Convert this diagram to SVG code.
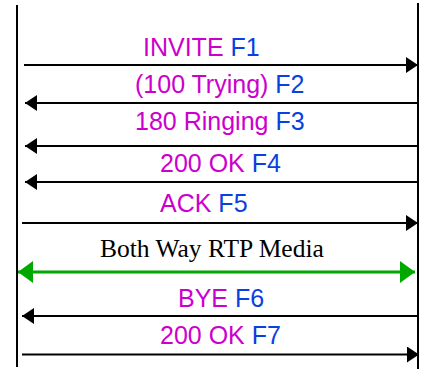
<svg xmlns="http://www.w3.org/2000/svg" width="438" height="383" viewBox="0 0 438 383">
<style>
.life{stroke:#000;stroke-width:2;fill:none}
.msg{stroke:#000;stroke-width:2;fill:none;marker-end:url(#ah)}
.media{stroke:#00A800;stroke-width:3;fill:none;marker-start:url(#gh);marker-end:url(#gh)}
.lbl{font-family:"Liberation Sans",Arial,sans-serif;font-size:25px}
.m{fill:#CC00CC}
.b{fill:#0A3FE0}
.ser{font-family:"Liberation Serif","Times New Roman",serif;font-size:25.5px;fill:#000}
</style>
<defs>
<marker id="ah" markerUnits="userSpaceOnUse" markerWidth="12" markerHeight="16" viewBox="0 0 12 16" refX="12" refY="8" orient="auto">
<path d="M0,0 L12,8 L0,16 z" fill="#000"/>
</marker>
<marker id="gh" markerUnits="userSpaceOnUse" markerWidth="15" markerHeight="22" viewBox="0 0 15 22" refX="15" refY="11" orient="auto-start-reverse">
<path d="M0,0 L15,11 L0,22 z" fill="#00A800"/>
</marker>
</defs>
<rect width="438" height="383" fill="#fff"/>
<g id="caller"><line class="life" x1="17" y1="5" x2="17" y2="367"/></g>
<g id="callee"><line class="life" x1="418" y1="3" x2="418" y2="369"/></g>
<g id="connectors">
<line class="msg" x1="24" y1="65" x2="418" y2="65"/>
<line class="msg" x1="418" y1="103" x2="25" y2="103"/>
<line class="msg" x1="418" y1="146" x2="25" y2="146"/>
<line class="msg" x1="418" y1="182" x2="25" y2="182"/>
<line class="msg" x1="22" y1="223" x2="418" y2="223"/>
<line class="media" x1="18" y1="272" x2="415" y2="272"/>
<line class="msg" x1="419" y1="316" x2="22" y2="316"/>
<line class="msg" x1="22" y1="354.5" x2="419" y2="354.5"/>
</g>
<g id="labels">
<text class="lbl" x="143" y="56"><tspan class="m">INVITE </tspan><tspan class="b">F1</tspan></text>
<text class="lbl" x="135" y="93"><tspan class="m">(100 Trying) </tspan><tspan class="b">F2</tspan></text>
<text class="lbl" x="135" y="130"><tspan class="m">180 Ringing </tspan><tspan class="b">F3</tspan></text>
<text class="lbl" x="160" y="172"><tspan class="m">200 OK </tspan><tspan class="b">F4</tspan></text>
<text class="lbl" x="160" y="212"><tspan class="m">ACK </tspan><tspan class="b">F5</tspan></text>
<text class="ser" x="100" y="257">Both Way RTP Media</text>
<text class="lbl" x="178" y="307"><tspan class="m">BYE </tspan><tspan class="b">F6</tspan></text>
<text class="lbl" x="160" y="344"><tspan class="m">200 OK </tspan><tspan class="b">F7</tspan></text>
</g>
</svg>
